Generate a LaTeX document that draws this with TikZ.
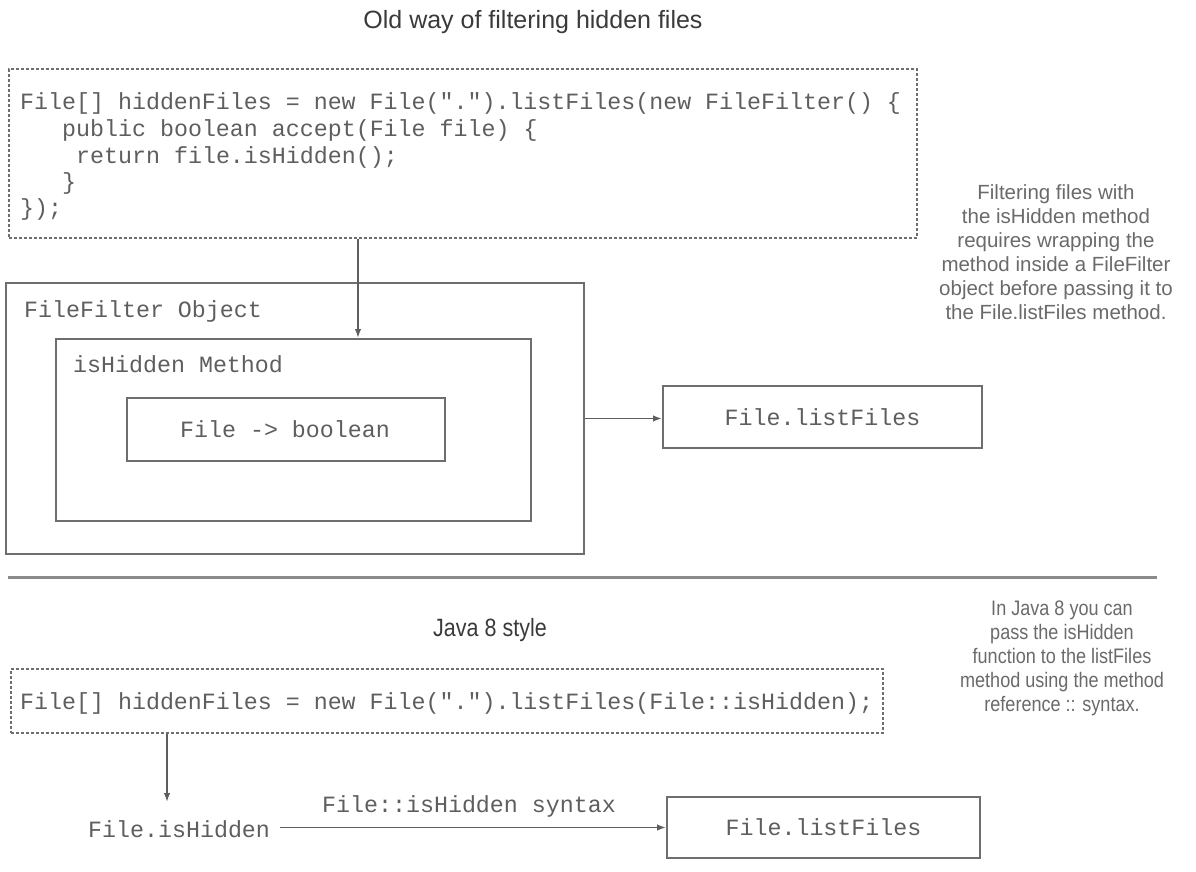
\documentclass[tikz,border=0pt]{standalone}
\usepackage{fontspec}
\setmainfont{Liberation Sans}
\setmonofont{Liberation Mono}
\newfontfamily\narrowsf[FakeStretch=0.86]{Liberation Sans}
\usetikzlibrary{arrows.meta}
\definecolor{boxgray}{HTML}{6E6E6E}
\definecolor{codegray}{HTML}{5E5E5E}
\definecolor{notegray}{HTML}{6A6A6A}
\definecolor{titlegray}{HTML}{3A3A3A}
\definecolor{sepgray}{HTML}{8A8A8A}
\begin{document}
\begin{tikzpicture}[x=1pt,y=-1pt,
  dashbox/.style={draw=boxgray, line width=1.6pt, dash pattern=on 3pt off 2pt, inner sep=0pt, anchor=north west},
  solidbox/.style={draw=boxgray, line width=2pt, inner sep=0pt, anchor=north west},
  code/.style={font=\ttfamily\fontsize{23.3}{26}\selectfont, text=codegray, inner sep=0pt, anchor=base west},
  codec/.style={font=\ttfamily\fontsize{23.3}{26}\selectfont, text=codegray, inner sep=0pt},
  note/.style={text=notegray, align=center, inner sep=0pt},
  arr/.style={draw=codegray, line width=1.5pt, -{Latex[length=9pt,width=6.5pt]}},
]
\useasboundingbox (0,0) rectangle (1196,872);

% title
\node[font=\fontsize{25}{30}\selectfont, text=titlegray] (title) at (533,22) {Old way of filtering hidden files};

% top code box
\node[dashbox, minimum width=908pt, minimum height=169pt] (top) at (8,68) {};
\node[code] (l1) at (20,110) {File[] hiddenFiles = new File(".").listFiles(new FileFilter() \{};
\node[code] (l2) at (62,136) {public boolean accept(File file) \{};
\node[code] (l3) at (76,163) {return file.isHidden();};
\node[code] (l4) at (62,189) {\}};
\node[code] (l5) at (20,215) {\});};

% note 1
\node[note, font=\fontsize{20.5}{24}\selectfont] (note1) at (1056,252)
  {Filtering files with\\the isHidden method\\requires wrapping the\\method inside a FileFilter\\object before passing it to\\the File.listFiles method.};

% nested boxes
\node[solidbox, minimum width=578pt, minimum height=271pt] (ff) at (5,282) {};
\node[code] (fflabel) at (24,317) {FileFilter Object};
\node[solidbox, minimum width=475pt, minimum height=182pt] (ih) at (55,338) {};
\node[code] (ihlabel) at (73,372) {isHidden Method};
\node[solidbox, minimum width=318pt, minimum height=63pt] (fb) at (126,397) {};
\node[codec] (fbtext) at (285,429) {File -> boolean};

\coordinate (a1x) at (358,0);
\draw[arr] (a1x |- top.south) -- (a1x |- ih.north);

% listFiles box (top)
\node[draw=boxgray, line width=2pt, minimum width=319pt, minimum height=62pt, inner sep=0pt, codec] (lf) at (822.5,417) {File.listFiles};
\draw[arr] (ff.east) -- (ff.east -| lf.west);

% separator
\draw[line width=3pt, sepgray] (8,577) -- (1157,577);

% Java 8 part
\node[font=\narrowsf\fontsize{25}{30}\selectfont, text=titlegray] (j8) at (490,630) {Java 8 style};

\node[note, font=\narrowsf\fontsize{21}{24}\selectfont] (note2) at (1062,658)
  {In Java 8 you can\\pass the isHidden\\function to the listFiles\\method using the method\\reference :: syntax.};

\node[dashbox, minimum width=872pt, minimum height=64pt] (bot) at (10,668) {};
\node[code] (l6) at (20,709) {File[] hiddenFiles = new File(".").listFiles(File::isHidden);};

\coordinate (vx) at (167,802);
\draw[arr] (vx |- bot.south) -- (vx);

\node[code] (hid) at (88,837) {File.isHidden};
\node[code] (syn) at (322,812) {File::isHidden syntax};
\node[draw=boxgray, line width=2pt, minimum width=313pt, minimum height=61pt, inner sep=0pt, codec] (lf2) at (823.5,827.5) {File.listFiles};
\draw[arr] ([xshift=10pt]lf2.west -| hid.east) -- (lf2.west);
\end{tikzpicture}
\end{document}
